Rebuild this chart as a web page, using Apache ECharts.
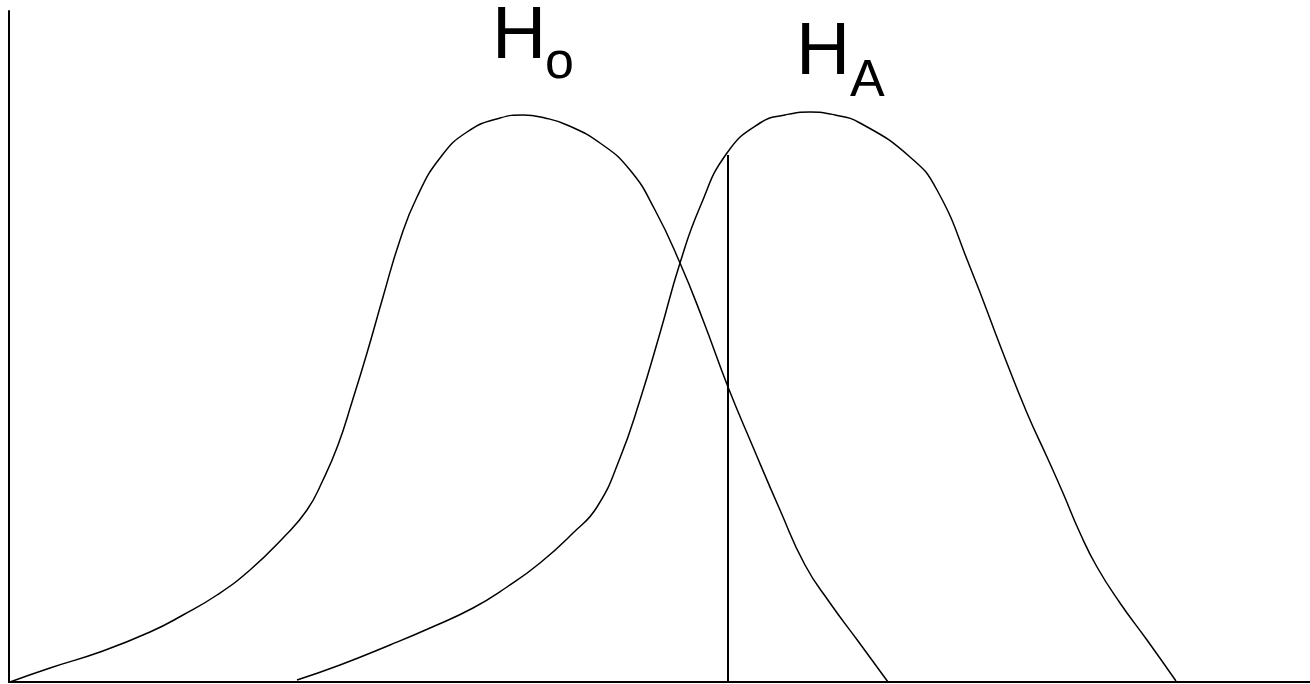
<!DOCTYPE html>
<html>
<head>
<meta charset="utf-8">
<script src="https://cdn.jsdelivr.net/npm/echarts@6/dist/echarts.min.js"></script>
<style>
  html, body { margin: 0; padding: 0; background: #fff; }
  #chart { width: 1310px; height: 684px; }
</style>
</head>
<body>
<div id="chart"></div>
<script>
// null hypothesis curve
var h0X = [10, 50, 100, 150, 183, 217, 250, 283, 307, 323, 338, 352, 367, 383, 400, 417, 440, 467, 500, 523, 545, 567, 600, 630, 655, 680, 703, 728, 753, 780, 805, 830, 858, 888]
var h0Y = [0, 14, 30, 50, 67, 87, 112, 144, 172, 202, 237, 280, 329, 385, 442, 485, 524, 550, 564, 567, 564, 557, 539, 512, 472, 419, 362, 295, 235, 172, 117, 79, 41, 0]

// alternative hypothesis curve
var haX = [297, 340, 390, 430, 473, 507, 540, 573, 597, 620, 640, 660, 680, 700, 727, 760, 785, 810, 835, 860, 910, 937, 970, 1003, 1027, 1047, 1063, 1080, 1097, 1120, 1147, 1176]
var haY = [2, 17, 37, 54, 74, 95, 119, 149, 175, 224, 282, 349, 419, 475, 529, 559, 567, 570, 567, 559, 525, 492, 415, 329, 269, 225, 189, 149, 115, 79, 42, 1]

// critical value line
var critX = [728, 728]
var critY = [0, 527]

function zip(xs, ys) {
  return xs.map(function (x, i) { return [x, ys[i]] })
}

var chart = echarts.init(document.getElementById('chart'))

var lineStyle = { color: '#000', width: 1.5 }
var font = 'Liberation Sans, Arial, sans-serif'

chart.setOption({
  animation: false,
  grid: { left: 9, right: 0, top: 11, bottom: 2 },
  xAxis: {
    type: 'value',
    min: 9,
    max: 1310,
    axisLine: { show: true, lineStyle: { color: '#000', width: 2 } },
    axisTick: { show: false },
    axisLabel: { show: false },
    splitLine: { show: false }
  },
  yAxis: {
    type: 'value',
    min: 0,
    max: 671,
    axisLine: { show: true, lineStyle: { color: '#000', width: 2 } },
    axisTick: { show: false },
    axisLabel: { show: false },
    splitLine: { show: false }
  },
  series: [
    {
      name: 'Ho',
      type: 'line',
      data: zip(h0X, h0Y),
      smooth: 0.5,
      symbol: 'none',
      lineStyle: lineStyle
    },
    {
      name: 'HA',
      type: 'line',
      data: zip(haX, haY),
      smooth: 0.5,
      symbol: 'none',
      lineStyle: lineStyle
    },
    {
      name: 'critical',
      type: 'line',
      data: zip(critX, critY),
      symbol: 'none',
      lineStyle: { color: '#000', width: 2 }
    }
  ],
  graphic: [
    { type: 'text', left: 492, top: 0, style: { text: 'H', font: '75px ' + font, fill: '#000' } },
    { type: 'text', left: 545, top: 38, style: { text: 'o', font: '52px ' + font, fill: '#000' } },
    { type: 'text', left: 796, top: 16, style: { text: 'H', font: '75px ' + font, fill: '#000' } },
    { type: 'text', left: 850, top: 56, style: { text: 'A', font: '52px ' + font, fill: '#000' } }
  ]
})
</script>
</body>
</html>
